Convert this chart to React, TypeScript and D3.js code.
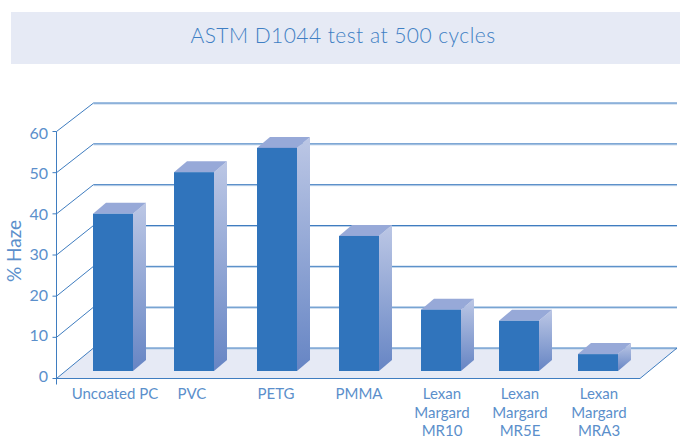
import React from "react";
import * as d3 from "d3";

const categories = ["Uncoated PC", "PVC", "PETG", "PMMA", "MR10", "MR5E", "MRA3"];
const haze = [38.2, 48.3, 54.2, 32.8, 14.9, 12.2, 4.1];
const labels = [["Uncoated PC"], ["PVC"], ["PETG"], ["PMMA"], ["Lexan", "Margard", "MR10"], ["Lexan", "Margard", "MR5E"], ["Lexan", "Margard", "MRA3"]];
const yTicks = [0, 10, 20, 30, 40, 50, 60];

const W = 685;
const H = 439;
const font = "Lato, 'Noto Sans', sans-serif";
const textBlue = "#5b8fcb";
const lineBlue = "#3f7dc0";

const barDepthX = 13;
const barDepthY = -11;
const barW = 40;
const barFloor = 371;

const App = () => {
  const y = d3.scaleLinear().domain([0, 60]).range([378.5, 131.5]);
  // back wall is a little shorter than the front plane
  const yBack = d3.scaleLinear().domain([0, 60]).range([348, 103]);
  const yLabel = d3.scaleLinear().domain([0, 60]).range([376, 132.5]);
  const h = (v: number) => y(0) - y(v);
  // bars are not evenly spaced in the original
  const x = d3.scaleOrdinal<string, number>().domain(categories).range([93, 174, 257, 339, 421, 499, 578]);
  const labelX = d3.scaleOrdinal<string, number>().domain(categories).range([115, 192, 276, 359, 442, 520, 599]);
  const x0 = 56.5;
  const x1 = 640;
  const xb0 = 93.5;
  const xb1 = 677;

  const floor = d3.line()([
    [x0, y(0)],
    [xb0, yBack(0)],
    [xb1, yBack(0)],
    [x1, y(0)],
  ]) + "Z";

  return (
    <svg width={W} height={H} style={{ position: "absolute", left: 0, top: 0 }} fontFamily={font}>
      <defs>
        <linearGradient id="side" x1="0" y1="0" x2="0" y2="1">
          <stop offset="0" stopColor="#bcc7e5" />
          <stop offset="1" stopColor="#6685c4" />
        </linearGradient>
      </defs>
      <rect x={11} y={12} width={669} height={52} fill="#e6eaf5" />
      <text x={343} y={42.5} textAnchor="middle" fontSize={21} fontWeight={300} letterSpacing={0.45} fill="#3f7fc4">
        ASTM D1044 test at 500 cycles
      </text>

      <path d={floor} fill="#e6eaf5" />
      {yTicks.map((t) => (
        <g key={t} fill="none">
          <line x1={xb0} x2={xb1} y1={yBack(t) + 1} y2={yBack(t) + 1} stroke="#b9cfe8" />
          <path
            d={d3.line()([
              [x0, y(t)],
              [xb0, yBack(t)],
              [xb1, yBack(t)],
            ]) as string}
            stroke={lineBlue}
          />
          <line x1={x0 - 4} x2={x0} y1={y(t)} y2={y(t)} stroke={lineBlue} />
          <text x={48} y={yLabel(t) + 6} textAnchor="end" fontSize={16} fill={textBlue} stroke="none">
            {t}
          </text>
        </g>
      ))}
      <line x1={x1} x2={xb1} y1={y(0)} y2={yBack(0)} stroke={lineBlue} />
      <line x1={x0} x2={x1} y1={y(0)} y2={y(0)} stroke={lineBlue} strokeWidth={1.2} />
      <line x1={x0} x2={x0} y1={y(60)} y2={y(0) + 6} stroke={lineBlue} />

      <text transform="translate(21,251) rotate(-90)" textAnchor="middle" fontSize={19} fill={textBlue}>
        % Haze
      </text>

      {categories.map((c, i) => {
        const left = x(c);
        const top = barFloor - h(haze[i]);
        const side = d3.line()([
          [left + barW, top],
          [left + barW + barDepthX, top + barDepthY],
          [left + barW + barDepthX, barFloor + barDepthY],
          [left + barW, barFloor],
        ]) + "Z";
        const cap = d3.line()([
          [left, top],
          [left + barDepthX, top + barDepthY],
          [left + barW + barDepthX, top + barDepthY],
          [left + barW, top],
        ]) + "Z";
        return (
          <g key={c}>
            <path d={side} fill="url(#side)" />
            <path d={cap} fill="#97a9d8" />
            <rect x={left} y={top} width={barW} height={h(haze[i])} fill="#3074bc" />
          </g>
        );
      })}

      {categories.map((c, i) => (
        <text key={c} textAnchor="middle" fontSize={15} fill={textBlue}>
          {labels[i].map((l, j) => (
            <tspan key={j} x={labelX(c)} y={399 + j * 18.5}>
              {l}
            </tspan>
          ))}
        </text>
      ))}
    </svg>
  );
};

export default App;
